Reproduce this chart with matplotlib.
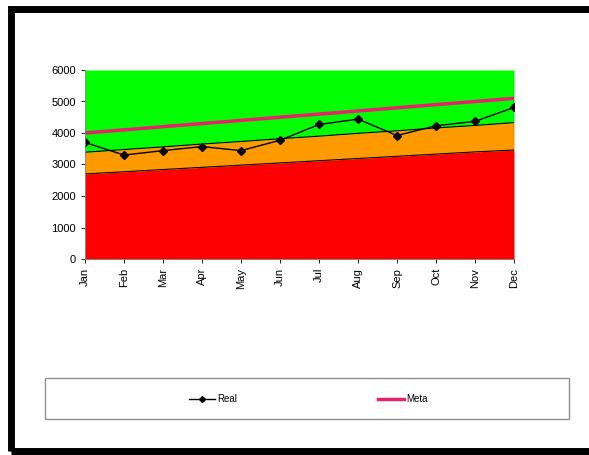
import matplotlib.pyplot as plt
from matplotlib.patches import Rectangle
from matplotlib.lines import Line2D

plt.rcParams['font.family'] = ['Liberation Sans', 'DejaVu Sans']

months = ['Jan', 'Feb', 'Mar', 'Apr', 'May', 'Jun',
          'Jul', 'Aug', 'Sep', 'Oct', 'Nov', 'Dec']
real = [3700, 3300, 3440, 3570, 3440, 3770, 4270, 4440, 3920, 4230, 4370, 4810]
meta = [4000, 4100, 4200, 4300, 4400, 4500, 4600, 4700, 4800, 4900, 5000, 5100]
low_band = [2700, 2770, 2840, 2910, 2980, 3050, 3120, 3190, 3260, 3330, 3400, 3460]
mid_band = [3390, 3475, 3560, 3650, 3730, 3820, 3900, 3990, 4070, 4160, 4240, 4330]
top = [6000] * 12

W, H = 589, 455
fig = plt.figure(figsize=(W / 100, H / 100), dpi=100)

# outer thick frame
fig.patches.append(Rectangle((11 / W, 4 / H), 1.0, (446 - 4 + 0.5) / H,
                             transform=fig.transFigure, fill=False,
                             edgecolor='black', linewidth=5, clip_on=False))

ax = fig.add_axes([85 / W, (H - 259) / H, (514 - 85) / W, (259 - 70) / H])
x = list(range(len(months)))

ax.fill_between(x, 0, low_band, color='#ff0000', lw=0)
ax.fill_between(x, low_band, mid_band, color='#ff9900', lw=0)
ax.fill_between(x, mid_band, top, color='#00ff00', lw=0)
ax.plot(x, low_band, color='black', lw=0.8)
ax.plot(x, mid_band, color='black', lw=0.8)
ax.plot(x, meta, color='#e8206e', lw=2.5)
ax.plot(x, real, color='black', lw=1, marker='D', ms=4.5)
ax.plot([11, 11], [0, 6000], color='black', lw=0.8)

ax.set_xlim(0, 11)
ax.set_ylim(0, 6000)
ax.set_xticks(x)
ax.set_xticklabels(months, rotation=90, fontsize=8)
ax.set_yticks(range(0, 6001, 1000))
ax.tick_params(axis='y', labelsize=8, length=3, width=0.6)
ax.tick_params(axis='x', length=3, width=0.6)
for s in ['top', 'right']:
    ax.spines[s].set_visible(False)
for s in ['left', 'bottom']:
    ax.spines[s].set_linewidth(0.6)
    ax.spines[s].set_color('#808080')

# legend box
fig.patches.append(Rectangle((45 / W, (H - 419) / H), (569 - 45) / W, (419 - 378) / H,
                             transform=fig.transFigure, fill=False,
                             edgecolor='#909090', linewidth=1))
handles = [Line2D([], [], color='black', lw=1, marker='D', ms=3),
           Line2D([], [], color='#e8206e', lw=2.5)]
fig.legend(handles, ['Real', 'Meta'], ncol=2, loc='center',
           bbox_to_anchor=(308 / W, (H - 399) / H), frameon=False,
           fontsize=7, handlelength=2.7, handletextpad=0.2, columnspacing=14.5)

fig.savefig('out.png', dpi=100)
